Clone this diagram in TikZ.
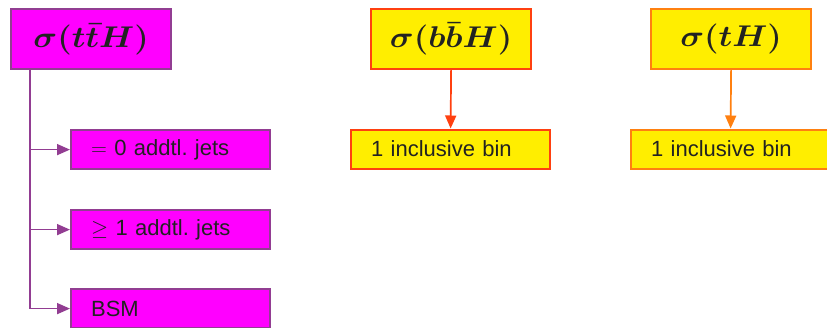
\RequirePackage{fix-cm}
\documentclass[tikz,border=0pt]{standalone}
\usepackage[no-math]{fontspec}
\setmainfont{Liberation Sans}
\usetikzlibrary{arrows.meta}
\definecolor{magfill}{HTML}{FF00FF}
\definecolor{purpline}{HTML}{923D92}
\definecolor{yelfill}{HTML}{FFEE00}
\definecolor{redline}{HTML}{FF4010}
\definecolor{orline}{HTML}{FF8010}
\definecolor{txt}{HTML}{222222}
\newcommand{\wide}[1]{\raisebox{-2pt}{\scalebox{1.1}[1]{#1}}}
\tikzset{
  titlebox/.style={draw, line width=2.2pt, rectangle, minimum width=160pt, minimum height=60pt,
    inner sep=0pt, text=txt, font=\fontsize{30}{36}\selectfont, anchor=north west},
  subbox/.style={draw, line width=2.2pt, rectangle, minimum height=39pt, inner xsep=20pt,
    inner ysep=0pt, text width=159pt, align=left, text=txt, font=\fontsize{22}{26}\selectfont\frenchspacing, anchor=north west},
  magbox/.style={fill=magfill, draw=purpline},
  ybox/.style={fill=yelfill},
  arr/.style={line width=1.7pt, -{Triangle[length=13pt,width=11pt]}}
}
\begin{document}
\begin{tikzpicture}[x=1pt,y=-1pt]
\useasboundingbox (0,0) rectangle (827,327);
\clip (0,0) rectangle (827,327);
% ttH column
\node[titlebox, magbox] (ttH) at (10,8) {\wide{\boldmath$\sigma(t\bar{t}H)$}};
\node[subbox, magbox] (j0) at (70,129) {$=$ 0 addtl. jets};
\node[subbox, magbox] (j1) at (70,209) {$\geq$ 1 addtl. jets};
\node[subbox, magbox] (bsm) at (70,288) {BSM};
\coordinate (tr) at ([xshift=20pt]ttH.south west);
\draw[arr, purpline] (tr) |- (j0.west);
\draw[arr, purpline] (tr) |- (j1.west);
\draw[arr, purpline] (tr) |- (bsm.west);
% bbH column
\node[titlebox, ybox, draw=redline] (bbH) at (370,8) {\wide{\boldmath$\sigma(b\bar{b}H)$}};
\node[subbox, ybox, draw=redline] (bsub) at (350,128.5) {1 inclusive bin};
\draw[arr, redline] (bbH.south) -- (bsub.north);
% tH column
\node[titlebox, ybox, draw=orline] (tH) at (650,8) {\wide{\boldmath$\sigma(tH)$}};
\node[subbox, ybox, draw=orline] (tsub) at (630,128.5) {1 inclusive bin};
\draw[arr, orline] (tH.south) -- (tsub.north);
\end{tikzpicture}
\end{document}
